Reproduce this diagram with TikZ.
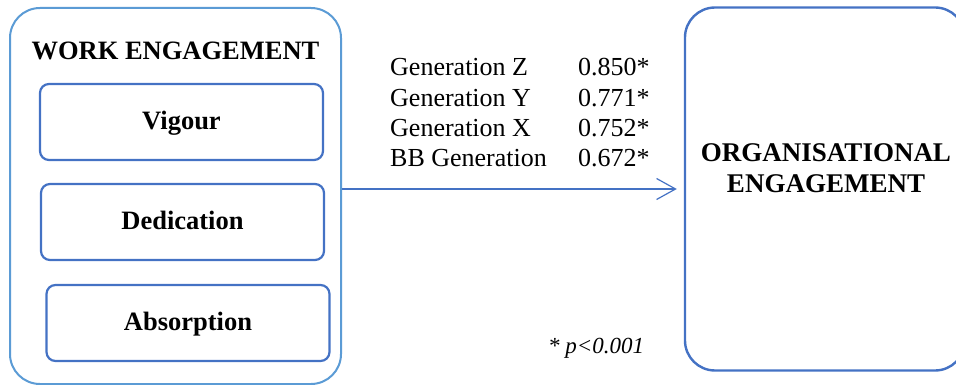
\documentclass[tikz,border=0pt]{standalone}
\usepackage{fontspec}
\setmainfont{Liberation Serif}
\usetikzlibrary{arrows.meta}
\definecolor{lblue}{HTML}{5B9BD5}
\definecolor{dblue}{HTML}{4472C4}
\begin{document}
\begin{tikzpicture}[x=1pt,y=-1pt,
  outerbox/.style={draw=lblue, line width=2pt, rounded corners=30pt, inner sep=0pt},
  rightbox/.style={draw=dblue, line width=2.4pt, rounded corners=30pt, inner sep=0pt},
  dimbox/.style={draw=dblue, line width=2.2pt, rounded corners=9pt, minimum width=283pt, minimum height=76pt, inner sep=0pt},
  boldlab/.style={font=\fontsize{26.5}{30}\selectfont\bfseries, inner sep=0pt, anchor=base, align=center},
  gentext/.style={font=\fontsize{26}{30}\selectfont, inner sep=0pt, anchor=base west},
  conn/.style={draw=dblue, line width=1.2pt, -{Straight Barb[length=19pt,width=21pt]}}]
\useasboundingbox (0,0) rectangle (956,385);
\clip (0,0) rectangle (956,385);
% outer boxes
\node[outerbox, minimum width=331pt, minimum height=376pt] (we) at (175.5,196) {};
\node[rightbox, minimum width=280pt, minimum height=363pt] (oe) at (825,189) {};
% inner boxes
\node[dimbox] (vig) at (181.5,122) {};
\node[dimbox] (ded) at (182.5,222) {};
\node[dimbox] (abs) at (188,323) {};
% labels
\node[boldlab] (wet) at (175.5,60) {WORK ENGAGEMENT};
\node[boldlab] (vigt) at (181.5,130) {Vigour};
\node[boldlab] (dedt) at (182.5,229) {Dedication};
\node[boldlab] (abst) at (188,330) {Absorption};
\node[boldlab, font=\fontsize{27}{30}\selectfont\bfseries] (oet1) at (826,162) {ORGANISATIONAL};
\node[boldlab, font=\fontsize{27}{30}\selectfont\bfseries] (oet2) at (826,193) {ENGAGEMENT};
% connector
\draw[conn, shorten >=7pt] (we.east |- oe.west) -- (oe.west);
% coefficients
\node[gentext] (g1) at (390,76) {Generation Z};
\node[gentext] (g2) at (390,106.5) {Generation Y};
\node[gentext] (g3) at (390,137) {Generation X};
\node[gentext] (g4) at (390,167) {BB Generation};
\node[gentext] (v1) at (578,76) {0.850*};
\node[gentext] (v2) at (578,106.5) {0.771*};
\node[gentext] (v3) at (578,137) {0.752*};
\node[gentext] (v4) at (578,167) {0.672*};
\node[gentext, font=\fontsize{23}{27}\selectfont\itshape] (pv) at (548,353) {* p<0.001};
\end{tikzpicture}
\end{document}
